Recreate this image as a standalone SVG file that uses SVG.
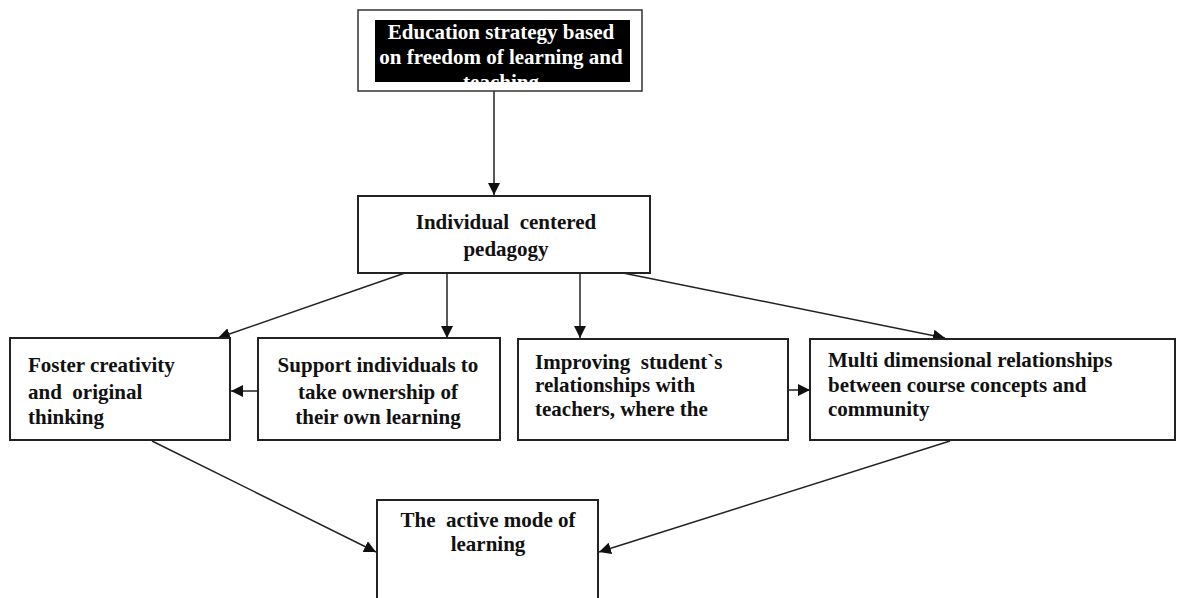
<svg xmlns="http://www.w3.org/2000/svg" width="1178" height="598" viewBox="0 0 1178 598">
<style>
.box{fill:#fff;stroke:#222;stroke-width:2}
.t{font-family:"Liberation Serif","DejaVu Serif",serif;font-weight:bold;font-size:21px;fill:#111}
.w{fill:#fff}
.c{text-anchor:middle}
.ln{stroke:#222;stroke-width:1.5;fill:none;marker-end:url(#ah)}
</style>
<defs>
<marker id="ah" markerUnits="userSpaceOnUse" markerWidth="14" markerHeight="12" refX="12" refY="6" orient="auto">
<path d="M0,0 L12,6 L0,12 Z" fill="#111"/>
</marker>
<clipPath id="clipTop"><rect x="375" y="20" width="255" height="62"/></clipPath>
</defs>
<rect width="1178" height="598" fill="#fff"/>
<g id="connectors">
<line class="ln" x1="494" y1="91" x2="494" y2="195"/>
<line class="ln" x1="405" y1="273" x2="218" y2="338"/>
<line class="ln" x1="447" y1="273" x2="447" y2="338"/>
<line class="ln" x1="580" y1="273" x2="580" y2="338"/>
<line class="ln" x1="623" y1="273" x2="945" y2="338"/>
<line class="ln" x1="258" y1="391" x2="231" y2="391"/>
<line class="ln" x1="788" y1="390" x2="810" y2="390"/>
<line class="ln" x1="152" y1="441" x2="376" y2="552"/>
<line class="ln" x1="950" y1="441" x2="599" y2="552"/>
</g>
<g id="n-strategy">
<rect x="358" y="10" width="284" height="81" fill="#fff" stroke="#333" stroke-width="1.5"/>
<rect x="375" y="20" width="255" height="62" fill="#000"/>
<g clip-path="url(#clipTop)">
<text class="t w c" x="501" y="39">Education strategy based</text>
<text class="t w c" x="501" y="64">on freedom of learning and</text>
<text class="t w c" x="501" y="89">teaching</text>
</g>
</g>
<g id="n-pedagogy">
<rect class="box" x="358" y="196" width="292" height="77"/>
<text class="t c" x="506" y="229" xml:space="preserve">Individual  centered</text>
<text class="t c" x="506" y="256">pedagogy</text>
</g>
<g id="n-foster">
<rect class="box" x="10" y="338" width="220" height="102"/>
<text class="t" x="28" y="372">Foster creativity</text>
<text class="t" x="28" y="399" xml:space="preserve">and  original</text>
<text class="t" x="28" y="424">thinking</text>
</g>
<g id="n-support">
<rect class="box" x="258" y="338" width="242" height="102"/>
<text class="t c" x="378" y="372">Support individuals to</text>
<text class="t c" x="378" y="399">take ownership of</text>
<text class="t c" x="378" y="424">their own learning</text>
</g>
<g id="n-improving">
<rect class="box" x="518" y="339" width="270" height="101"/>
<text class="t" x="535" y="369" xml:space="preserve">Improving  student`s</text>
<text class="t" x="535" y="392">relationships with</text>
<text class="t" x="535" y="416">teachers, where the</text>
</g>
<g id="n-multi">
<rect class="box" x="810" y="339" width="365" height="101"/>
<text class="t" x="828" y="367">Multi dimensional relationships</text>
<text class="t" x="828" y="392">between course concepts and</text>
<text class="t" x="828" y="416">community</text>
</g>
<g id="n-active">
<rect class="box" x="377" y="500" width="221" height="110"/>
<text class="t c" x="488" y="527" xml:space="preserve">The  active mode of</text>
<text class="t c" x="488" y="551">learning</text>
</g>
</svg>
